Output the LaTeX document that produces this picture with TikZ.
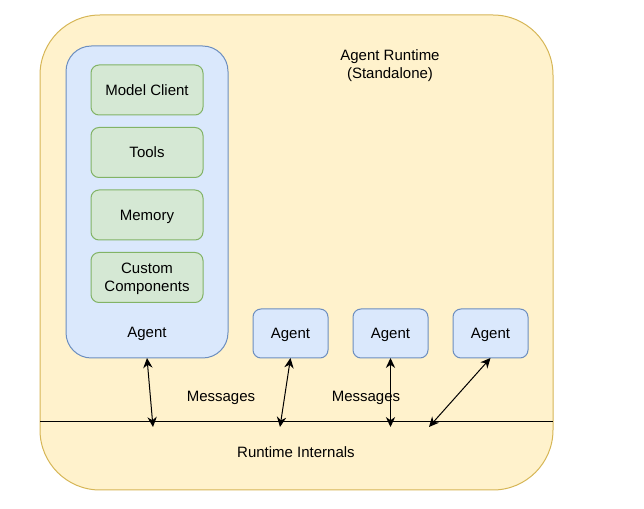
\documentclass[tikz,border=0pt]{standalone}
\usepackage{fontspec}
\setmainfont{Liberation Sans}
\usetikzlibrary{arrows.meta}
\definecolor{rtfill}{HTML}{FFF2CC}
\definecolor{rtdraw}{HTML}{D6B656}
\definecolor{agfill}{HTML}{DAE8FC}
\definecolor{agdraw}{HTML}{6C8EBF}
\definecolor{cpfill}{HTML}{D5E8D4}
\definecolor{cpdraw}{HTML}{82B366}
\tikzset{
  txt/.style={font=\fontsize{11.25}{13.5}\selectfont, align=center, inner sep=0pt},
  agentbox/.style={draw=agdraw, fill=agfill, line width=0.75pt, rounded corners=6pt,
    minimum width=56.25pt, minimum height=36.75pt, inner sep=0pt, outer sep=0pt, txt},
  compbox/.style={draw=cpdraw, fill=cpfill, line width=0.75pt, rounded corners=6pt,
    minimum width=84pt, minimum height=37.5pt, inner sep=0pt, outer sep=0pt, txt},
  msg/.style={{Stealth[length=7.5pt,width=7pt]}-{Stealth[length=7.5pt,width=7pt]}, line width=0.75pt}
}
\begin{document}
\begin{tikzpicture}[x=0.75pt,y=-0.75pt]
    \useasboundingbox (0,0) rectangle (644,509);
    % runtime container
    \node[draw=rtdraw, fill=rtfill, line width=0.75pt, rounded corners=45pt,
          minimum width=384.75pt, minimum height=356.25pt, inner sep=0pt] (runtime) at (296.5,252.5) {};
    \node[txt] (title) at (390,65.5) {Agent Runtime\\(Standalone)};
    % runtime internals
    \coordinate (rtL) at (40,422);
    \coordinate (rtR) at (553,422);
    \draw[line width=0.75pt] (rtL) -- (rtR);
    \node[txt] (internals) at (296,452.5) {Runtime Internals};
    % main agent with its parts
    \node[draw=agdraw, fill=agfill, line width=0.75pt, rounded corners=19pt,
          minimum width=121.5pt, minimum height=234pt, inner sep=0pt, outer sep=0pt] (agent) at (147,202) {};
    \node[txt] (agentlbl) at (147,333.5) {Agent};
    \foreach \y/\name/\lbl in {90/model/Model Client,152.5/tools/Tools,215/memory/Memory,277.5/custom/Custom\\Components}
        \node[compbox, text depth=0pt] (\name) at (147,\y) {\lbl};
    % other agents
    \foreach \x/\name in {290.5/agentb,390.5/agentc,490.5/agentd}
        \node[agentbox, text depth=0pt] (\name) at (\x,333.5) {Agent};
    % message links
    \coordinate (ma) at (153,427);
    \coordinate (mb) at (280,427);
    \coordinate (mc) at (390.5,427);
    \coordinate (md) at (429,427);
    \draw[msg] (agent.south) -- (ma);
    \draw[msg] (agentb.south) -- (mb);
    \draw[msg] (agentc.south) -- (mc);
    \draw[msg] (agentd.south) -- (md);
    \node[txt] (msgA) at (221,397.5) {Messages};
    \node[txt] (msgB) at (366,397.5) {Messages};
\end{tikzpicture}
\end{document}
